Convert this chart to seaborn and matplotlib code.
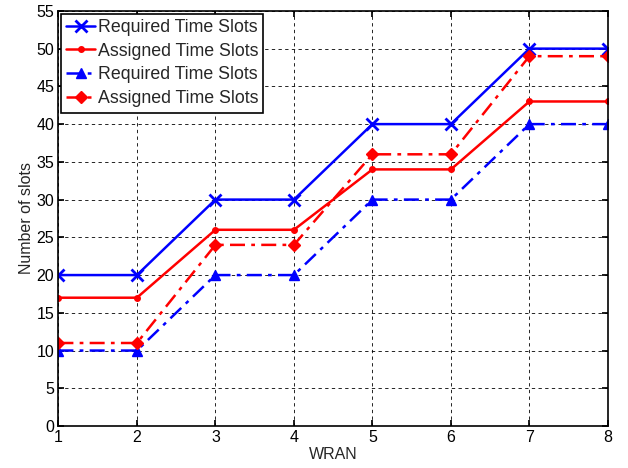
import matplotlib
matplotlib.use("Agg")
import matplotlib.pyplot as plt
import seaborn as sns
import pandas as pd

wran = [1, 2, 3, 4, 5, 6, 7, 8]
required_a = [20, 20, 30, 30, 40, 40, 50, 50]
assigned_a = [17, 17, 26, 26, 34, 34, 43, 43]
required_b = [10, 10, 20, 20, 30, 30, 40, 40]
assigned_b = [11, 11, 24, 24, 36, 36, 49, 49]
labels = ["Required Time Slots", "Assigned Time Slots", "Required Time Slots", "Assigned Time Slots"]

sns.set_theme(style="white")
plt.rcParams['font.family'] = ['Liberation Sans', 'DejaVu Sans']

fig = plt.figure(figsize=(6.28, 4.68), dpi=100)
ax = fig.add_axes([0.093, 0.0897, 0.875, 0.887])

series = [
    (required_a, "blue", "-", "x", 8, labels[0]),
    (assigned_a, "red", "-", "o", 4, labels[1]),
    (required_b, "blue", (0, (6, 2.5, 1.5, 2.5)), "^", 7, labels[2]),
    (assigned_b, "red", (0, (6, 2.5, 1.5, 2.5)), "D", 6, labels[3]),
]
for vals, col, ls, mk, ms, lab in series:
    df = pd.DataFrame({"WRAN": wran, "slots": vals})
    sns.lineplot(data=df, x="WRAN", y="slots", ax=ax, color=col, linestyle=ls,
                 marker=mk, markersize=ms, linewidth=1.8, label=lab,
                 markeredgecolor=col, markeredgewidth=2 if mk == "x" else 1)

ax.set_xlim(1, 8)
ax.set_ylim(0, 55)
ax.set_xticks(range(1, 9))
ax.set_yticks(range(0, 56, 5))
ax.grid(True, color="black", linestyle=(0, (4, 4)), linewidth=0.6)
ax.tick_params(direction="in", length=4, labelsize=11.5, colors="black", left=True, bottom=True, right=True, top=True, pad=3)
for s in ax.spines.values():
    s.set_color("black")
    s.set_linewidth(1.2)
ax.set_xlabel("WRAN", fontsize=11.5, labelpad=1)
ax.set_ylabel("Number of slots", fontsize=11.5, labelpad=2)
leg = ax.legend(loc="upper left", fontsize=12.8, frameon=True, fancybox=False,
                edgecolor="black", framealpha=1, borderaxespad=0.15,
                handlelength=1.6, labelspacing=0.38, borderpad=0.3, handletextpad=0.15)
leg.get_frame().set_linewidth(1.2)

fig.savefig("out.png", dpi=100)
